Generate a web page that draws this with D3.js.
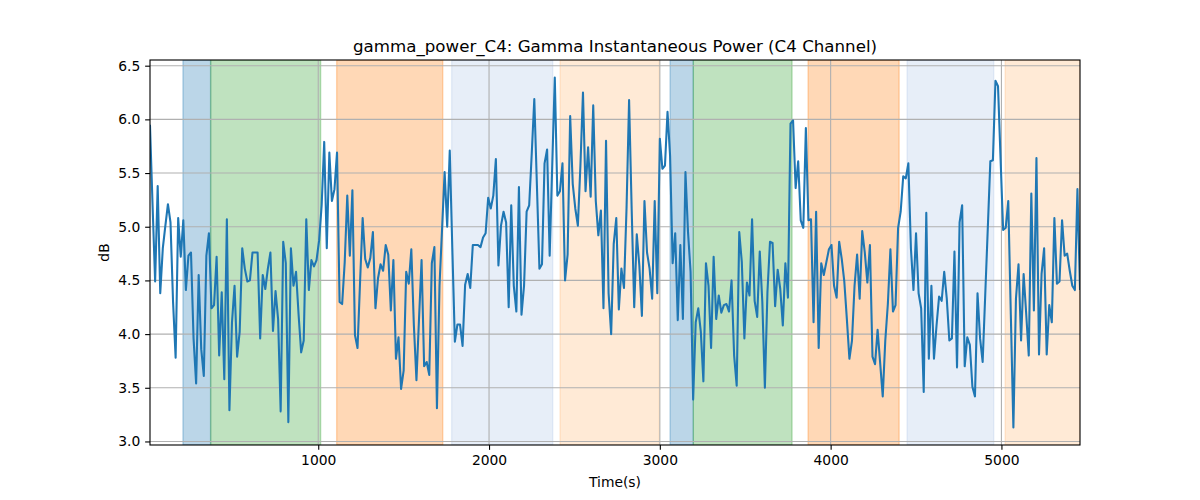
<!DOCTYPE html>
<html>
<head>
<meta charset="utf-8">
<script src="https://cdn.jsdelivr.net/npm/d3@7"></script>
<style>
  html, body { margin: 0; padding: 0; background: #fff; }
  svg { display: block; }
  text { font-family: "DejaVu Sans", sans-serif; fill: #000; }
</style>
</head>
<body>
<svg id="chart" width="1200" height="500"></svg>
<script>
// ---- Data ----
const title = "gamma_power_C4: Gamma Instantaneous Power (C4 Channel)";
const xLabel = "Time(s)";
const yLabel = "dB";
const startTime = 15;   // s, first sample
const timeStep = 15;    // s, sample spacing

const gammaPower = [
  // 15 .. ~1125 s
  5.94, 5.20, 4.49, 5.38, 4.38, 4.80, 5.01, 5.21, 5.04, 4.30, 3.78,
  5.08, 4.72, 5.06, 4.41, 4.73, 4.76, 3.96, 3.54, 4.55, 3.86,
  3.61, 4.73, 4.94, 4.24, 4.27, 4.72, 3.80, 4.39, 3.58, 5.07,
  3.29, 4.11, 4.45, 3.79, 4.02, 4.80, 4.61, 4.49, 4.50, 4.76,
  4.76, 4.76, 3.96, 4.55, 4.42, 4.61, 4.76, 4.03, 4.40, 4.14,
  3.28, 4.86, 4.66, 3.18, 4.80, 4.45, 4.58, 4.18, 3.83, 3.94,
  5.07, 4.41, 4.69, 4.63, 4.69, 4.87, 5.20, 5.79, 4.80, 5.69,
  5.24, 5.35, 5.69, 4.30,
  // ~1125 .. ~2235 s
  4.28, 4.67, 5.29, 4.73, 5.34, 3.99, 3.87, 4.49, 5.08, 4.70,
  4.62, 4.71, 4.95, 4.24, 4.52, 4.65, 4.59, 4.83, 4.74, 4.22,
  4.69, 3.77, 3.97, 3.49, 3.66, 4.58, 4.47, 4.79, 4.08, 3.57,
  4.14, 4.69, 3.70, 3.74, 3.62, 4.66, 4.81, 3.31, 4.45, 4.98,
  5.51, 5.00, 5.71, 4.80, 3.93, 4.09, 4.09, 3.89, 4.46, 4.56,
  4.43, 4.83, 4.83, 4.83, 4.81, 4.90, 4.94, 5.27, 5.17, 5.29,
  5.63, 4.64, 5.01, 5.14, 5.04, 4.25, 5.20, 4.45, 4.21, 5.37,
  4.18, 4.45, 5.14, 5.20,
  // ~2235 .. ~3345 s
  5.68, 6.19, 5.40, 4.61, 4.65, 5.59, 5.72, 4.73, 5.57, 6.39,
  5.29, 5.33, 5.59, 4.50, 4.74, 6.03, 5.40, 5.17, 5.01, 5.57,
  6.25, 5.33, 5.74, 5.28, 6.13, 5.24, 4.92, 5.15, 4.24, 5.80,
  4.38, 4.00, 4.84, 5.08, 4.23, 4.61, 4.43, 5.17, 6.18, 5.17,
  4.25, 4.93, 4.64, 4.17, 5.24, 4.76, 4.61, 4.33, 5.24, 4.38,
  5.82, 5.54, 5.57, 6.07, 5.66, 4.66, 4.94, 4.13, 4.83, 4.14,
  5.51, 4.95, 4.58, 3.39, 4.11, 4.24, 4.02, 3.56, 4.66, 4.45,
  3.87, 4.72, 4.14, 4.36,
  // ~3345 .. ~4455 s
  4.20, 4.27, 4.28, 4.21, 4.50, 3.80, 3.52, 4.95, 4.67, 3.96,
  4.48, 4.36, 5.07, 4.31, 4.16, 4.77, 4.30, 3.50, 4.39, 4.86,
  4.85, 4.26, 4.60, 4.42, 4.08, 4.66, 4.34, 5.96, 5.99, 5.36,
  5.61, 5.06, 4.99, 5.92, 5.06, 5.07, 4.11, 5.14, 3.87, 4.66,
  4.55, 4.67, 4.79, 4.83, 4.45, 4.34, 4.86, 4.70, 4.49, 4.14,
  3.77, 3.94, 4.45, 4.74, 4.33, 4.96, 4.76, 4.48, 4.83, 3.79,
  3.72, 4.04, 3.73, 3.42, 3.94, 4.28, 4.79, 4.21, 4.27, 4.99,
  5.14, 5.47, 5.45, 5.59,
  // ~4455 .. 5460 s
  4.80, 4.41, 4.94, 4.38, 4.24, 3.46, 5.13, 3.77, 4.45, 3.77,
  4.08, 4.35, 4.31, 4.58, 4.33, 3.94, 3.96, 4.77, 3.69, 5.04,
  5.20, 3.70, 3.97, 3.90, 3.51, 3.42, 4.38, 3.96, 3.74, 4.36,
  4.98, 5.61, 5.62, 6.36, 6.31, 5.63, 4.97, 4.99, 5.24, 4.18,
  3.13, 4.33, 4.65, 3.94, 4.56, 4.19, 3.80, 5.31, 4.22, 5.64,
  3.81, 4.56, 4.80, 3.81, 4.27, 4.11, 5.08, 4.47, 4.49, 5.06,
  4.73, 4.75, 4.59, 4.45, 4.41, 5.35, 4.42
];

// Shaded stage intervals (start s, end s, colour key)
const spanStarts = [208, 370, 1108, 1781, 2416, 3060, 3196, 3868, 4448, 5022];
const spanEnds   = [370, 1014, 1729, 2373, 2997, 3196, 3774, 4401, 4955, 5460];
const spanKinds  = ["blue", "green", "orange", "lightblue", "peach",
                    "blue", "green", "orange", "lightblue", "peach"];
const spanColors = { blue: "#1f77b4", green: "#2ca02c", orange: "#ff7f0e",
                     lightblue: "#aec7e8", peach: "#ffbb78" };

const xTicks = [1000, 2000, 3000, 4000, 5000];
const yTicks = [3.0, 3.5, 4.0, 4.5, 5.0, 5.5, 6.0, 6.5];

// ---- Layout ----
const W = 1200, H = 500;
const L = 150, R = 1080, T = 60, B = 445;
const PT = 100 / 72; // px per point

const times = gammaPower.map((_, i) => startTime + i * timeStep);
const series = gammaPower.map((v, i) => ({ t: times[i], v }));

const svg = d3.select("#chart");

const x = d3.scaleLinear().domain(d3.extent(times)).range([L, R]);
const [vmin, vmax] = d3.extent(gammaPower);
const pad = (vmax - vmin) * 0.05;
const y = d3.scaleLinear().domain([vmin - pad, vmax + pad]).range([B, T]);

const defs = svg.append("defs");
defs.append("clipPath").attr("id", "clip")
  .append("rect").attr("x", L).attr("y", T).attr("width", R - L).attr("height", B - T);

// spans
const spanData = spanStarts.map((s, i) => ({ s, e: spanEnds[i], c: spanColors[spanKinds[i]] }));
svg.append("g").attr("clip-path", "url(#clip)")
  .selectAll("rect").data(spanData).join("rect")
  .attr("x", d => x(d.s))
  .attr("width", d => x(d.e) - x(d.s))
  .attr("y", T).attr("height", B - T)
  .attr("fill", d => d.c).attr("fill-opacity", 0.3)
  .attr("stroke", d => d.c).attr("stroke-opacity", 0.3).attr("stroke-width", PT);

// grid
const grid = svg.append("g");
grid.selectAll("line.gx").data(xTicks).join("line")
  .attr("x1", d => x(d)).attr("x2", d => x(d))
  .attr("y1", T).attr("y2", B)
  .attr("stroke", "#b0b0b0").attr("stroke-width", 0.8 * PT);
grid.selectAll("line.gy").data(yTicks).join("line")
  .attr("x1", L).attr("x2", R)
  .attr("y1", d => y(d)).attr("y2", d => y(d))
  .attr("stroke", "#b0b0b0").attr("stroke-width", 0.8 * PT);

// line
const line = d3.line().x(d => x(d.t)).y(d => y(d.v));
svg.append("path").datum(series)
  .attr("clip-path", "url(#clip)")
  .attr("d", line)
  .attr("fill", "none")
  .attr("stroke", "#1f77b4")
  .attr("stroke-width", 1.5 * PT)
  .attr("stroke-linejoin", "round")
  .attr("stroke-linecap", "square");

// axes
const tickLen = 3.5 * PT;
const xAxis = d3.axisBottom(x).tickValues(xTicks).tickFormat(d3.format("d"))
  .tickSizeInner(tickLen).tickSizeOuter(0).tickPadding(3.5 * PT);
const yAxis = d3.axisLeft(y).tickValues(yTicks).tickFormat(d3.format(".1f"))
  .tickSizeInner(tickLen).tickSizeOuter(0).tickPadding(3.5 * PT);

const gx = svg.append("g").attr("transform", `translate(0,${B})`).call(xAxis);
const gy = svg.append("g").attr("transform", `translate(${L},0)`).call(yAxis);
[gx, gy].forEach(g => {
  g.select(".domain").remove();
  g.selectAll(".tick line").attr("stroke", "#000").attr("stroke-width", 0.8 * PT);
  g.selectAll(".tick text").attr("font-size", (10 * PT) + "px")
    .attr("font-family", "DejaVu Sans, sans-serif").attr("fill", "#000");
});

// frame
svg.append("rect").attr("x", L).attr("y", T).attr("width", R - L).attr("height", B - T)
  .attr("fill", "none").attr("stroke", "#000").attr("stroke-width", 0.8 * PT);

// labels
svg.append("text").attr("x", (L + R) / 2).attr("y", 52)
  .attr("text-anchor", "middle").attr("font-size", (12 * PT) + "px").text(title);
svg.append("text").attr("x", (L + R) / 2).attr("y", 487)
  .attr("text-anchor", "middle").attr("font-size", (10 * PT) + "px").text(xLabel);
svg.append("text").attr("transform", `translate(109,${(T + B) / 2}) rotate(-90)`)
  .attr("text-anchor", "middle").attr("font-size", (10 * PT) + "px").text(yLabel);
</script>
</body>
</html>
